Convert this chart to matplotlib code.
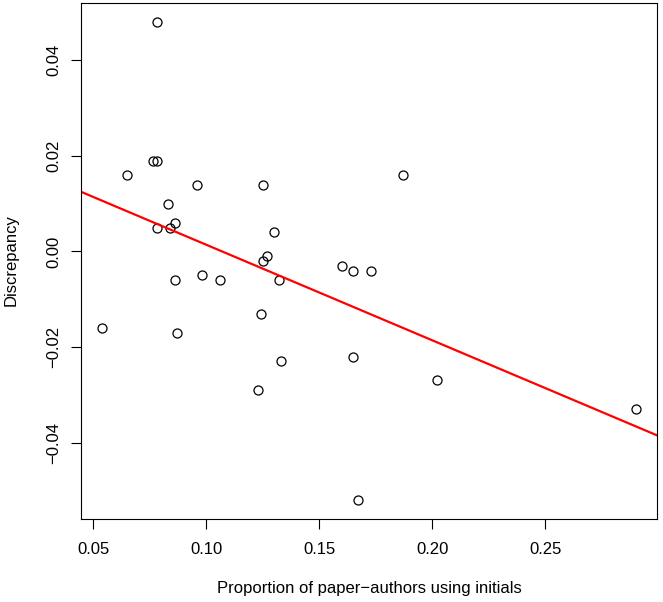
import numpy as np
import matplotlib
matplotlib.use("Agg")
import matplotlib.pyplot as plt

plt.rcParams['font.family'] = ['Liberation Sans', 'DejaVu Sans']

# --- data ---
prop_initials = [0.078, 0.0763, 0.078, 0.065, 0.096, 0.125, 0.083, 0.078, 0.084, 0.086,
                 0.130, 0.127, 0.125, 0.086, 0.098, 0.106, 0.132, 0.160, 0.165, 0.124,
                 0.054, 0.087, 0.165, 0.133, 0.123, 0.187, 0.173, 0.202, 0.290, 0.167]
discrepancy = [0.048, 0.019, 0.019, 0.016, 0.014, 0.014, 0.010, 0.005, 0.005, 0.006,
               0.004, -0.001, -0.002, -0.006, -0.005, -0.006, -0.006, -0.003, -0.004, -0.013,
               -0.016, -0.017, -0.022, -0.023, -0.029, 0.016, -0.004, -0.027, -0.033, -0.052]
fit_coef = [-0.200, 0.0214]   # slope, intercept of the red line

xticks = [0.05, 0.10, 0.15, 0.20, 0.25]
yticks = [-0.04, -0.02, 0.00, 0.02, 0.04]

x = np.array(prop_initials)
y = np.array(discrepancy)

fig = plt.figure(figsize=(6.63, 6.02), dpi=100)
ax = fig.add_axes([81/663, 83/602, 576/663, 516/602])

ax.plot(x, y, 'o', mfc='none', mec='black', ms=6.5, mew=0.9)

# R-style 4% padding
xr = x.max() - x.min()
yr = y.max() - y.min()
xlim = (x.min() - 0.04*xr, x.max() + 0.04*xr)
ylim = (y.min() - 0.04*yr, y.max() + 0.04*yr)
ax.set_xlim(xlim)
ax.set_ylim(ylim)

xx = np.array(xlim)
ax.plot(xx, np.polyval(fit_coef, xx), color='red', lw=1.6)

ax.set_xticks(xticks)
ax.set_xticklabels([f'{v:.2f}' for v in xticks])
ax.set_yticks(yticks)
ax.set_yticklabels([f'{v:.2f}'.replace('-', '\u2212') for v in yticks])
for lab in ax.get_yticklabels():
    lab.set_rotation(90)
    lab.set_va('center')

ax.tick_params(length=7.2, width=0.8, labelsize=12)
ax.tick_params(axis='x', pad=9)
ax.tick_params(axis='y', pad=7)
for s in ax.spines.values():
    s.set_linewidth(0.8)

ax.set_xlabel('Proportion of paper\u2212authors using initials', fontsize=12)
ax.set_ylabel('Discrepancy', fontsize=12)
ax.xaxis.set_label_coords(0.5, (519 - 589) / 516)
ax.xaxis.label.set_va('center')
ax.yaxis.set_label_coords((11 - 81) / 576, (519 - 260) / 516)
ax.yaxis.label.set_va('center')

fig.savefig('out.png', dpi=100)
